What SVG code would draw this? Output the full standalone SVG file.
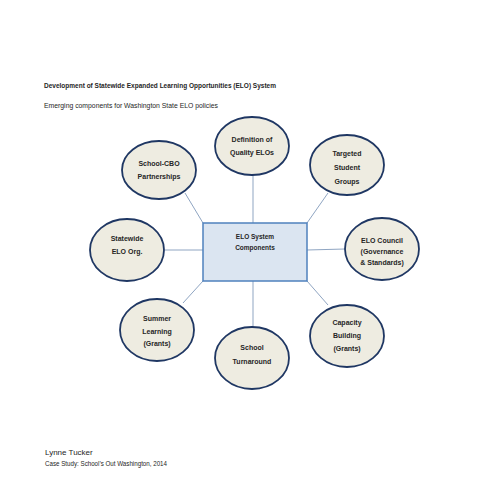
<svg xmlns="http://www.w3.org/2000/svg" width="495" height="495" viewBox="0 0 495 495">
<style>
.bg{fill:#ffffff}
.node ellipse{fill:#eeece1;stroke:#1f3763;stroke-width:1.8}
.hub rect{fill:#dbe5f1;stroke:#4f81bd;stroke-width:1.5}
.lbl{font-family:"Liberation Sans",Arial,sans-serif;font-weight:bold;font-size:7px;fill:#262626;text-anchor:middle}
.hlbl{font-family:"Liberation Sans",Arial,sans-serif;font-weight:bold;font-size:6.5px;fill:#262626;text-anchor:middle}
.conn line{stroke:#8fa5c2;stroke-width:1}
.cap{font-family:"Liberation Sans",Arial,sans-serif;font-size:8px;fill:#262626}
</style>
<rect class="bg" x="0" y="0" width="495" height="495"/>
<text class="cap" x="44" y="88" font-weight="bold" textLength="232" lengthAdjust="spacingAndGlyphs">Development of Statewide Expanded Learning Opportunities (ELO) System</text>
<text class="cap" x="44" y="108" textLength="174" lengthAdjust="spacingAndGlyphs">Emerging components for Washington State ELO policies</text>
<g id="connectors" class="conn">
<line x1="253" y1="175" x2="253" y2="223"/>
<line x1="185" y1="193" x2="203" y2="223"/>
<line x1="328" y1="193" x2="307" y2="223"/>
<line x1="165" y1="250" x2="203" y2="250"/>
<line x1="307" y1="250" x2="345" y2="249"/>
<line x1="203" y1="281" x2="183" y2="303"/>
<line x1="253" y1="281" x2="253" y2="327"/>
<line x1="307" y1="281" x2="328" y2="305"/>
</g>
<g id="hub" class="hub">
<rect x="203" y="223" width="104" height="58"/>
<text class="hlbl" x="255" y="239">ELO System</text>
<text class="hlbl" x="255" y="250">Components</text>
</g>
<g id="n-definition" class="node">
<ellipse cx="252" cy="146" rx="37" ry="29"/>
<text class="lbl" x="252" y="142">Definition of</text>
<text class="lbl" x="252" y="155">Quality ELOs</text>
</g>
<g id="n-schoolcbo" class="node">
<ellipse cx="159" cy="170" rx="37" ry="29"/>
<text class="lbl" x="159" y="166">School-CBO</text>
<text class="lbl" x="159" y="179">Partnerships</text>
</g>
<g id="n-targeted" class="node">
<ellipse cx="347" cy="165" rx="37" ry="30"/>
<text class="lbl" x="347" y="156">Targeted</text>
<text class="lbl" x="347" y="170">Student</text>
<text class="lbl" x="347" y="184">Groups</text>
</g>
<g id="n-statewide" class="node">
<ellipse cx="127" cy="250" rx="37" ry="31"/>
<text class="lbl" x="127" y="241">Statewide</text>
<text class="lbl" x="127" y="254">ELO Org.</text>
</g>
<g id="n-council" class="node">
<ellipse cx="382" cy="249" rx="37" ry="31"/>
<text class="lbl" x="382" y="243">ELO Council</text>
<text class="lbl" x="382" y="254">(Governance</text>
<text class="lbl" x="382" y="265">&amp; Standards)</text>
</g>
<g id="n-summer" class="node">
<ellipse cx="157" cy="330" rx="37" ry="31"/>
<text class="lbl" x="157" y="321">Summer</text>
<text class="lbl" x="157" y="334">Learning</text>
<text class="lbl" x="157" y="346">(Grants)</text>
</g>
<g id="n-turnaround" class="node">
<ellipse cx="252" cy="358" rx="37" ry="31"/>
<text class="lbl" x="252" y="350">School</text>
<text class="lbl" x="252" y="364">Turnaround</text>
</g>
<g id="n-capacity" class="node">
<ellipse cx="347" cy="336" rx="37" ry="31"/>
<text class="lbl" x="347" y="325">Capacity</text>
<text class="lbl" x="347" y="338">Building</text>
<text class="lbl" x="347" y="351">(Grants)</text>
</g>
<text class="cap" x="45" y="455" font-size="7.5">Lynne Tucker</text>
<text class="cap" x="45" y="466" font-size="7.5" textLength="122" lengthAdjust="spacingAndGlyphs">Case Study: School’s Out Washington, 2014</text>
</svg>
